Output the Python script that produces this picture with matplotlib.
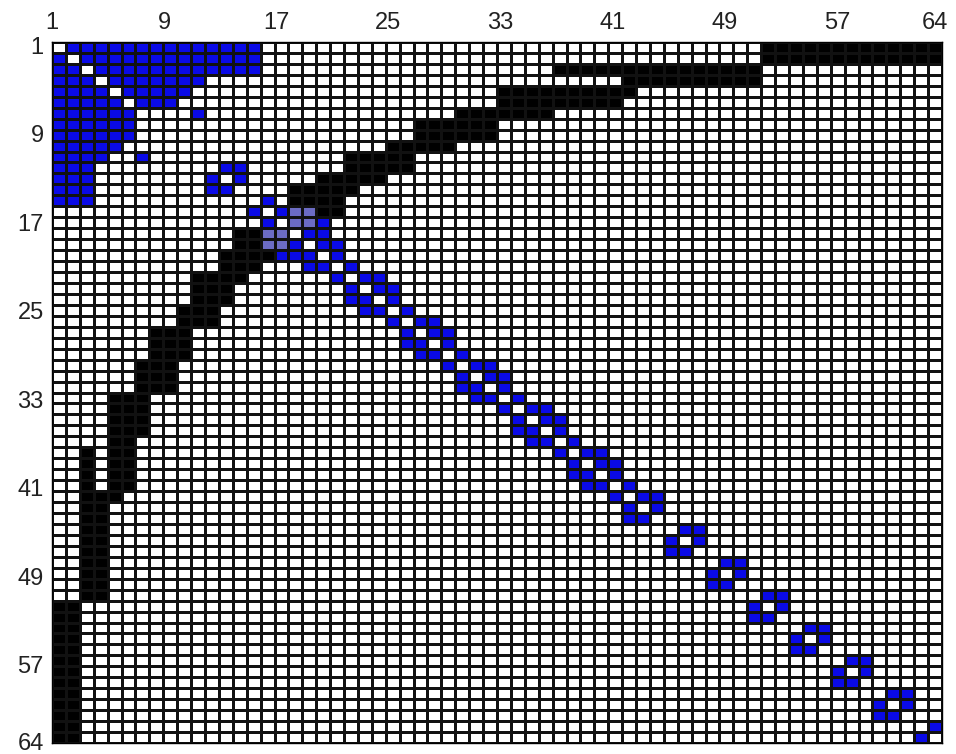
import matplotlib
matplotlib.use("Agg")
import matplotlib.pyplot as plt
import numpy as np
from matplotlib.colors import ListedColormap

N = 64
tick_labels = [1, 9, 17, 25, 33, 41, 49, 57, 64]

# blue cells: row -> list of (first col, last col) inclusive
blue_rows = {
    1: [(2, 15)], 2: [(1, 1), (3, 15)], 3: [(1, 2), (4, 15)],
    4: [(1, 3), (5, 11)], 5: [(1, 4), (6, 10)], 6: [(1, 5), (7, 9)],
    7: [(1, 6), (11, 11)], 8: [(1, 6)], 9: [(1, 6)], 10: [(1, 5)],
    11: [(1, 4), (7, 7)], 12: [(1, 3), (13, 14)], 13: [(1, 3), (12, 12), (14, 14)],
    14: [(1, 3), (12, 13)], 15: [(1, 3), (16, 16)],
    16: [(15, 15), (17, 19)], 17: [(16, 16), (18, 20)],
    18: [(16, 17), (19, 20)], 19: [(16, 18), (20, 21)],
    20: [(17, 19), (21, 21)], 21: [(19, 20), (22, 22)],
    22: [(21, 21), (23, 24)], 23: [(22, 22), (24, 25)],
    24: [(22, 23), (25, 25)], 25: [(23, 24), (26, 26)],
    26: [(25, 25), (27, 28)], 27: [(26, 26), (28, 29)],
    28: [(26, 27), (29, 29)], 29: [(27, 28), (30, 30)],
    30: [(29, 29), (31, 32)], 31: [(30, 30), (32, 33)],
    32: [(30, 31), (33, 33)], 33: [(31, 32), (34, 34)],
    34: [(33, 33), (35, 36)], 35: [(34, 34), (36, 37)],
    36: [(34, 35), (37, 37)], 37: [(35, 36), (38, 38)],
    38: [(37, 37), (39, 40)], 39: [(38, 38), (40, 41)],
    40: [(38, 39), (41, 41)], 41: [(39, 40), (42, 42)],
    42: [(41, 41), (43, 44)], 43: [(42, 42), (44, 44)], 44: [(42, 43)],
    45: [(46, 47)], 46: [(45, 45), (47, 47)], 47: [(45, 46)],
    48: [(49, 50)], 49: [(48, 48), (50, 50)], 50: [(48, 49)],
    51: [(52, 53)], 52: [(51, 51), (53, 53)], 53: [(51, 52)],
    54: [(55, 56)], 55: [(54, 54), (56, 56)], 56: [(54, 55)],
    57: [(58, 59)], 58: [(57, 57), (59, 59)], 59: [(57, 58)],
    60: [(61, 62)], 61: [(60, 60), (62, 62)], 62: [(60, 61)],
    63: [(64, 64)], 64: [(63, 63)],
}

# black cells: row -> list of (first col, last col) inclusive
black_rows = {
    1: [(52, 64)], 2: [(52, 64)], 3: [(37, 51)], 4: [(42, 51)],
    5: [(33, 42)], 6: [(33, 41)], 7: [(30, 36)], 8: [(27, 32)],
    9: [(27, 32)], 10: [(25, 29)], 11: [(22, 26)], 12: [(22, 26)],
    13: [(20, 24)], 14: [(18, 22)], 15: [(18, 21)], 16: [(18, 21)],
    17: [(18, 19)], 18: [(14, 17)], 19: [(14, 17)], 20: [(13, 16)],
    21: [(13, 15)], 22: [(11, 14)], 23: [(11, 13)], 24: [(11, 13)],
    25: [(10, 12)], 26: [(10, 12)], 27: [(8, 10)], 28: [(8, 10)],
    29: [(8, 10)], 30: [(7, 9)], 31: [(7, 9)], 32: [(7, 9)],
    33: [(5, 7)], 34: [(5, 7)], 35: [(5, 7)], 36: [(5, 7)],
    37: [(5, 6)], 38: [(3, 3), (5, 6)], 39: [(3, 3), (5, 6)],
    40: [(3, 3), (5, 6)], 41: [(3, 3), (5, 6)], 42: [(3, 5)],
    43: [(3, 4)], 44: [(3, 4)], 45: [(3, 4)], 46: [(3, 4)], 47: [(3, 4)],
    48: [(3, 4)], 49: [(3, 4)], 50: [(3, 4)], 51: [(3, 4)],
    52: [(1, 2)], 53: [(1, 2)], 54: [(1, 2)], 55: [(1, 2)], 56: [(1, 2)],
    57: [(1, 2)], 58: [(1, 2)], 59: [(1, 2)], 60: [(1, 2)], 61: [(1, 2)],
    62: [(1, 2)], 63: [(1, 2)], 64: [(1, 2)],
}

colors = ["#ffffff", "#0a0ae6", "#000000", "#6c6cc4"]

M = np.zeros((N, N), dtype=int)
for r, spans in black_rows.items():
    for a, b in spans:
        M[r - 1, a - 1:b] = 2
for r, spans in blue_rows.items():
    for a, b in spans:
        seg = M[r - 1, a - 1:b]
        M[r - 1, a - 1:b] = np.where(seg == 2, 3, 1)

W, H = 956, 754
fig = plt.figure(figsize=(W / 100, H / 100), dpi=100)
left, right, top, bottom = 52, 942, 42, 743
ax = fig.add_axes([left / W, 1 - bottom / H, (right - left) / W, (bottom - top) / H])
ax.pcolormesh(np.arange(N + 1), np.arange(N + 1), M,
              cmap=ListedColormap(colors), vmin=-0.5, vmax=3.5,
              edgecolors="#111111", linewidth=1.0)
ax.set_xlim(0, N)
ax.set_ylim(N, 0)
ax.xaxis.tick_top()
xpos = [(t - 1) * (1 + 0.5 / 63) for t in tick_labels]
ypos = [0.3 + (t - 1) * (63.6 / 63) for t in tick_labels]
ax.set_xticks(xpos)
ax.set_xticklabels([str(t) for t in tick_labels])
ax.set_yticks(ypos)
ax.set_yticklabels([str(t) for t in tick_labels])
ax.tick_params(length=0, labelsize=17, pad=6)
for lab in ax.get_xticklabels() + ax.get_yticklabels():
    lab.set_fontfamily("Liberation Sans")
    lab.set_color("#222222")
for s in ax.spines.values():
    s.set_linewidth(1.0)
fig.savefig("out.png", dpi=100)
